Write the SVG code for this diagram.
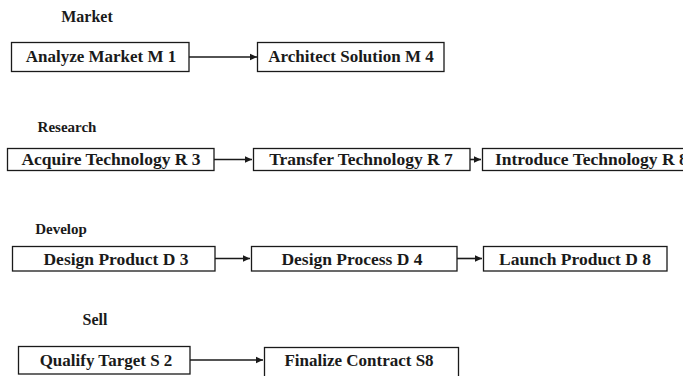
<svg xmlns="http://www.w3.org/2000/svg" width="683" height="376" viewBox="0 0 683 376">
<style>
.bg{fill:#ffffff}
.box{fill:#ffffff;stroke:#1a1a1a;stroke-width:1.3}
.t{font-family:'Liberation Serif','Times New Roman',serif;font-weight:bold;fill:#1a1a1a;text-anchor:middle}
.lbl{font-size:16px}
.lbl2{font-size:15px}
.n1{font-size:17px}
.n2{font-size:17.5px}
.c{stroke:#1a1a1a;stroke-width:1.6;fill:none}
</style>
<defs>
<marker id="ah" markerWidth="8" markerHeight="8" refX="7" refY="4" orient="auto" markerUnits="userSpaceOnUse">
<path d="M0,0.8 L7,4 L0,7.2 Z" fill="#1a1a1a"/>
</marker>
</defs>
<rect class="bg" x="0" y="0" width="683" height="376"/>

<g id="lane-labels">
<text class="t lbl" x="87" y="22">Market</text>
<text class="t lbl2" x="67" y="132">Research</text>
<text class="t lbl2" x="61" y="234">Develop</text>
<text class="t lbl" x="95" y="325">Sell</text>
</g>

<g id="M1"><rect class="box" x="11.5" y="42.5" width="177.5" height="29"/><text class="t n1" x="101" y="62">Analyze Market M 1</text></g>
<g id="M4"><rect class="box" x="257.5" y="42.5" width="186.5" height="29"/><text class="t n1" x="351" y="62">Architect Solution M 4</text></g>

<g id="R3"><rect class="box" x="7.5" y="148.5" width="206.5" height="22"/><text class="t n2" x="111" y="165">Acquire Technology R 3</text></g>
<g id="R7"><rect class="box" x="253.5" y="148.5" width="216.5" height="22"/><text class="t n2" x="361" y="165">Transfer Technology R 7</text></g>
<g id="R8"><rect class="box" x="482.5" y="148.5" width="220" height="22"/><text class="t n2" x="495" y="165" style="text-anchor:start">Introduce Technology R 8</text></g>

<g id="D3"><rect class="box" x="12.5" y="246.5" width="202.5" height="24.5"/><text class="t n2" x="116" y="265">Design Product D 3</text></g>
<g id="D4"><rect class="box" x="251.5" y="246.5" width="205.5" height="24.5"/><text class="t n2" x="352" y="265">Design Process D 4</text></g>
<g id="D8"><rect class="box" x="483.5" y="246.5" width="183.5" height="24.5"/><text class="t n2" x="575" y="265">Launch Product D 8</text></g>

<g id="S2"><rect class="box" x="18.5" y="346.5" width="171.5" height="27.5"/><text class="t n1" x="106" y="366">Qualify Target S 2</text></g>
<g id="S8"><rect class="box" x="264.5" y="347.5" width="194" height="32"/><text class="t n1" x="359" y="366">Finalize Contract S8</text></g>

<g id="connectors">
<line class="c" x1="189" y1="57" x2="257" y2="57" marker-end="url(#ah)"/>
<line class="c" x1="214" y1="159.5" x2="252" y2="159.5" marker-end="url(#ah)"/>
<line class="c" x1="470" y1="159.5" x2="481" y2="159.5" marker-end="url(#ah)"/>
<line class="c" x1="215" y1="258.5" x2="250" y2="258.5" marker-end="url(#ah)"/>
<line class="c" x1="457" y1="258.5" x2="482" y2="258.5" marker-end="url(#ah)"/>
<line class="c" x1="190" y1="360" x2="263" y2="360" marker-end="url(#ah)"/>
</g>
</svg>
